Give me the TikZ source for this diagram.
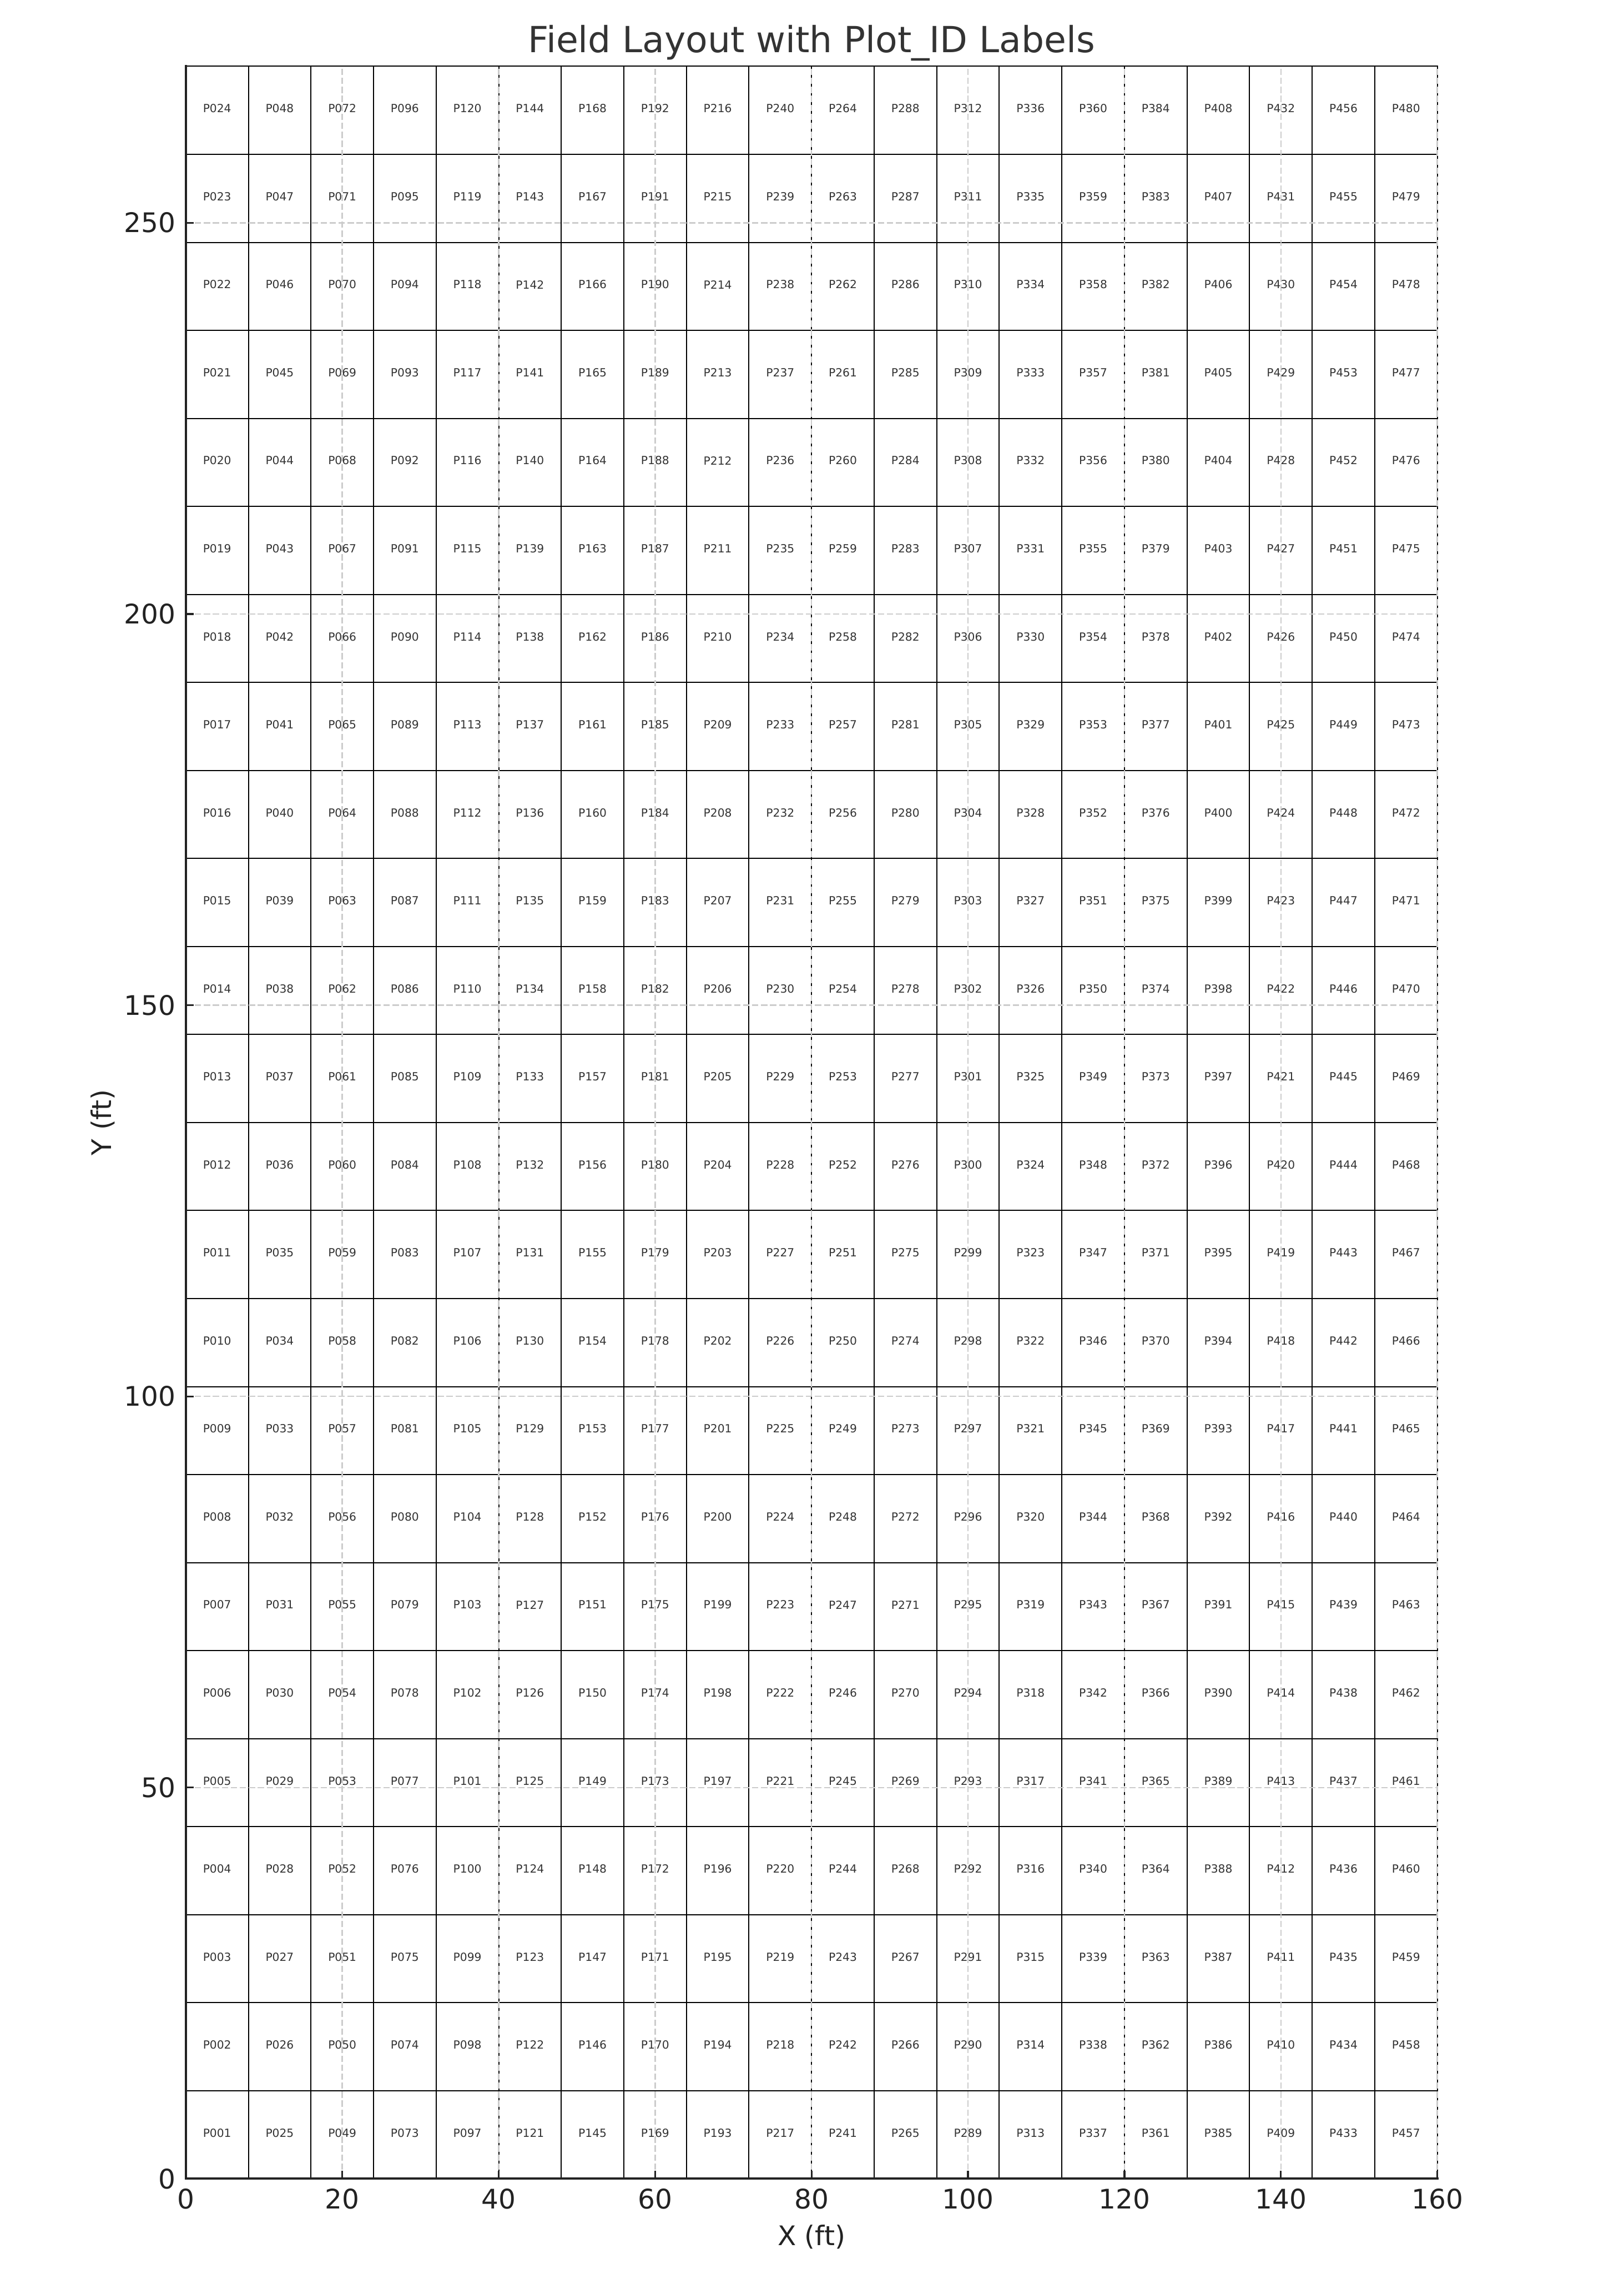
\documentclass[tikz,border=0pt]{standalone}
\usepackage{fontspec}
\setmainfont{DejaVu Sans}
\usepackage{xcolor}
\definecolor{fltext}{RGB}{51, 51, 51}
\definecolor{flaxis}{RGB}{34, 34, 34}
\definecolor{flgrid}{RGB}{204, 204, 204}
\usepackage{tikz}
\usetikzlibrary{positioning}
\tikzset{
  plotcell/.style = {
    draw=black,
    line width=0.5pt
  },
  plotlabel/.style = {
    text=fltext,
    font=\fontsize{5}{6}\selectfont,
    inner sep=0pt,
    yshift=0.8pt
  },
  gridline/.style = {
    draw=flgrid,
    line width=0.6pt,
    dash pattern=on 2.8pt off 1.2pt
  },
  spine/.style = {
    draw=flaxis,
    line width=1pt,
    line cap=rect
  },
  tickmark/.style = {
    draw=flaxis,
    line width=0.8pt
  },
  ticklabel/.style = {
    text=flaxis,
    font=\fontsize{12}{14}\selectfont,
    inner sep=0pt
  },
  axislabel/.style = {
    text=flaxis,
    font=\fontsize{12}{14}\selectfont,
    inner sep=0pt
  },
  titletext/.style = {
    text=fltext,
    font=\fontsize{16}{19}\selectfont,
    inner sep=0pt
  }
}

\begin{document}
\begin{tikzpicture}[x=0.12235cm, y=0.12235cm]
  \useasboundingbox (-23.76,-12.18) rectangle (183.85,278.48);

  % Plot cells (20 x 24, 8 ft by 11.25 ft)
  \draw[plotcell] (0,0) grid[xstep=8, ystep=11.25] (160,270);
  \draw[plotcell] (0,0) rectangle (160,270);

  % Grid
  \foreach \x in {20,40,...,160}
    \draw[gridline] (\x,0) -- (\x,270);
  \foreach \y in {50,100,...,250}
    \draw[gridline] (0,\y) -- (160,\y);

  % Ticks
  \foreach \x in {0,20,...,160}
    \draw[tickmark] (\x,0) -- ++(0,3.5pt);
  \foreach \y in {0,50,...,250}
    \draw[tickmark] (0,\y) -- ++(3.5pt,0);

  % Spines
  \draw[spine] (0,270) -- (0,0) -- (160,0);

  % Plot_ID labels
  \foreach \c in {0,...,19}{
    \foreach \r in {0,...,23}{
      \pgfmathtruncatemacro{\pid}{\c*24+\r+1}
      \node[plotlabel] (p\pid) at (\c*8+4, \r*11.25+5.625)
        {P\ifnum\pid<10 00\else\ifnum\pid<100 0\fi\fi\pid};
    }
  }

  % Tick labels
  \foreach \x in {0,20,...,160}
    \node[ticklabel, anchor=north, yshift=-4.3pt] (xt\x) at (\x,0) {\x};
  \foreach \y in {0,50,...,250}
    \node[ticklabel, anchor=east, xshift=-4.3pt] (yt\y) at (0,\y) {\y};

  % Axis labels and title
  \node[axislabel, below=6.5pt of xt80] (xlabel) {X (ft)};
  \node[axislabel, rotate=90, anchor=south] (ylabel) at (-9.05,135) {Y (ft)};
  \node[titletext, anchor=base] (title) at (80,271.76) {Field Layout with Plot\_ID Labels};
\end{tikzpicture}
\end{document}
